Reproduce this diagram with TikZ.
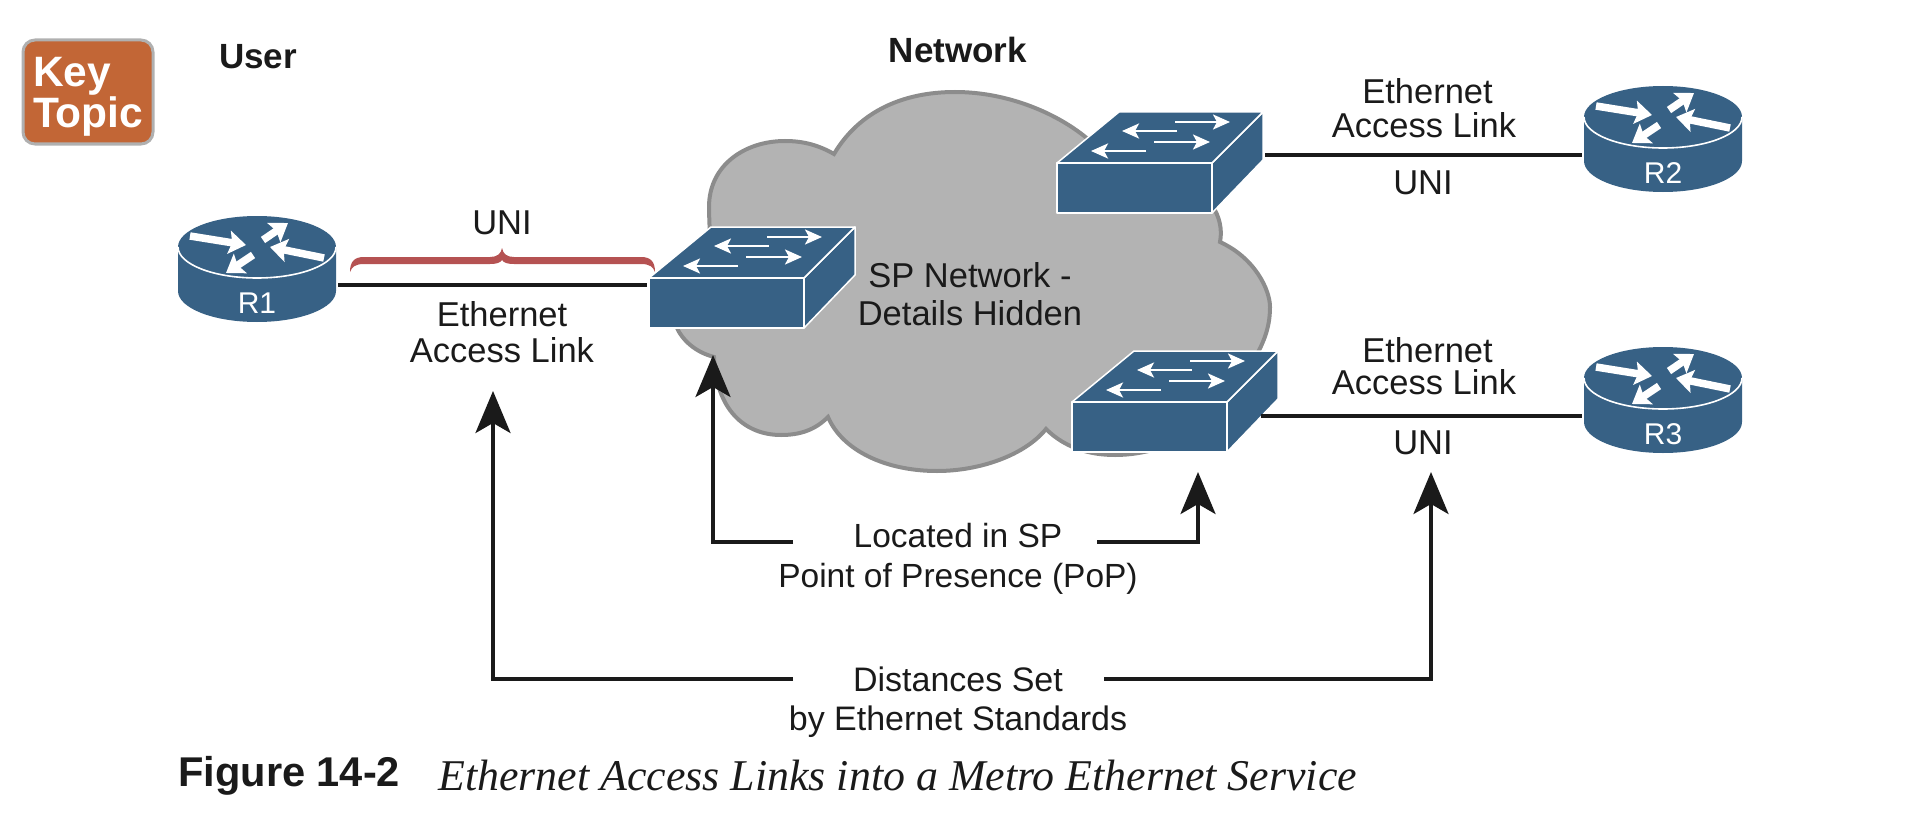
\documentclass[tikz,border=0pt]{standalone}
\usepackage{fontspec}
\setmainfont{Liberation Sans}
\newfontfamily\captionserif{Liberation Serif}
\usetikzlibrary{arrows.meta}
\definecolor{devblue}{HTML}{376185}
\definecolor{cloudgray}{HTML}{B3B3B3}
\definecolor{cloudedge}{HTML}{8C8C8C}
\definecolor{keyorange}{HTML}{C26636}
\definecolor{keyedge}{HTML}{B0B0B0}
\definecolor{bracered}{HTML}{B55252}
\definecolor{inkblack}{HTML}{1A1A1A}
\tikzset{
  lbl/.style={inner sep=0pt,align=center,text=inkblack,font=\fontsize{34.5}{36}\selectfont},
  linkline/.style={draw=inkblack,line width=3.6pt},
  flowline/.style={draw=inkblack,line width=3.6pt,-{Stealth[length=42pt,width=35pt,inset=10pt]}},
  swarrow/.style={draw=white,line width=2.5pt,-{Stealth[length=17pt,width=15pt,inset=4pt]}},
  rtarrow/.style={draw=white,line width=7.5pt,-{Stealth[length=17pt,width=23pt,inset=3pt]}},
  pics/router/.style={code={
    \fill[devblue] (-79,0) -- (-79,44) .. controls (-79,61) and (-44,75) .. (0,75)
      .. controls (44,75) and (79,61) .. (79,44) -- (79,0)
      .. controls (79,-17) and (44,-31) .. (0,-31)
      .. controls (-44,-31) and (-79,-17) .. (-79,0) -- cycle;
    \draw[white,line width=1.6pt] (-79,0) .. controls (-79,17) and (-44,31) .. (0,31)
      .. controls (44,31) and (79,17) .. (79,0);
    \foreach \ax/\ay/\bx/\by in {-67/-11/-11/-2, 6/-7/31/-24, 67/11/13/0, -4/8/-31/26}
    \draw[rtarrow] (\ax,\ay) -- (\bx,\by);
    \node[inner sep=0pt,text=white,font=\fontsize{30}{30}\selectfont] (-label) at (0,56) {#1};
    \coordinate (-west) at (-81,38);
    \coordinate (-east) at (81,38);
  }},
  pics/switchbox/.style={code={
    \draw[white,line width=1.5pt,line join=round,fill=devblue]
      (155,0) -- (206,-51) -- (206,-3) -- (155,50) -- cycle;
    \draw[white,line width=1.5pt,line join=round,fill=devblue]
      (0,0) -- (62,-51) -- (206,-51) -- (155,0) -- cycle;
    \draw[white,line width=1.5pt,line join=round,fill=devblue]
      (0,0) rectangle (155,50);
    \foreach \ax/\ay/\bx/\by in {118/-41/173/-41, 120/-32/65/-32, 97/-21/153/-21, 89/-12/34/-12}
    \draw[swarrow] (\ax,\ay) -- (\bx,\by);
    \coordinate (-west) at (-2,7);
    \coordinate (-east) at (208,-8);
  }}
}
\begin{document}
\begin{tikzpicture}[x=1pt,y=-1pt]
    \useasboundingbox (0,0) rectangle (1908,840);

    \node[draw=keyedge,fill=keyorange,line width=3pt,rounded corners=12pt,minimum width=130pt,
      minimum height=104pt] (keybox) at (88,92) {};
    \node[inner sep=0pt,text width=112pt,align=left,text=white,
      font=\bfseries\fontsize{42.5}{39}\selectfont] (keytopic) at (89,97) {Key\\Topic};

    \node[lbl,font=\bfseries\fontsize{35}{36}\selectfont] (usertitle) at (258,57) {User};
    \node[lbl,font=\bfseries\fontsize{35}{36}\selectfont] (nettitle) at (958,50) {Network};

    \filldraw[fill=cloudgray,draw=cloudedge,line width=4pt,line join=miter]
      (834,154) .. controls (860,110) and (905,92) .. (955,92)
      .. controls (1010,92) and (1060,115) .. (1089,140)
      .. controls (1150,150) and (1230,190) .. (1220,242)
      .. controls (1255,258) and (1270,290) .. (1270,307)
      .. controls (1270,330) and (1262,345) .. (1254,360)
      .. controls (1240,420) and (1170,455) .. (1115,455)
      .. controls (1090,455) and (1065,448) .. (1046,429)
      .. controls (1025,455) and (980,471) .. (937,471)
      .. controls (885,471) and (842,450) .. (828,417)
      .. controls (815,430) and (800,435) .. (781,435)
      .. controls (745,435) and (716,410) .. (714,357)
      .. controls (695,352) and (682,340) .. (676,326)
      .. controls (672,310) and (680,280) .. (705,265)
      .. controls (712,245) and (709,225) .. (709,207)
      .. controls (709,165) and (745,141) .. (785,141)
      .. controls (805,141) and (820,146) .. (834,154) -- cycle;

    \pic (r1) at (257,247) {router=R1};
    \pic (r2) at (1663,117) {router=R2};
    \pic (r3) at (1663,378) {router=R3};
    \pic (sw1) at (649,278) {switchbox};
    \pic (sw2) at (1057,163) {switchbox};
    \pic (sw3) at (1072,402) {switchbox};
    \coordinate (sw3port) at (1261,416);

    \draw[linkline] (r1-east) -- (sw1-west);
    \draw[linkline] (sw2-east) -- (r2-west);
    \draw[linkline] (sw3port) -- (r3-west);

    \fill[bracered] (350,272) .. controls (350,262) and (354,257) .. (364,257) -- (490,257)
      .. controls (497,257) and (501,254) .. (502,248)
      .. controls (503,254) and (507,257) .. (514,257) -- (641,257)
      .. controls (651,257) and (655,262) .. (655,272)
      .. controls (653,267) and (650,264) .. (641,264) -- (514,264)
      .. controls (508,264) and (504,263) .. (502,260)
      .. controls (500,263) and (496,264) .. (490,264) -- (364,264)
      .. controls (355,264) and (352,267) .. (350,272) -- cycle;

    \node[lbl] (uni1) at (502,223) {UNI};
    \node[lbl] (access1) at (502,332) {Ethernet\\Access Link};
    \node[lbl,font=\fontsize{34.5}{38}\selectfont] (hidden) at (970,294) {SP Network -\\Details Hidden};
    \node[lbl,font=\fontsize{34.5}{34}\selectfont] (access2) at (1424,108) {\hspace*{7pt}Ethernet\\Access Link};
    \node[lbl] (uni2) at (1423,183) {UNI};
    \node[lbl,font=\fontsize{34.5}{32}\selectfont] (access3) at (1424,366) {\hspace*{7pt}Ethernet\\Access Link};
    \node[lbl] (uni3) at (1423,443) {UNI};
    \node[lbl,font=\fontsize{33.5}{40}\selectfont] (pop) at (958,559) {Located in SP\\Point of Presence (PoP)};
    \node[lbl,font=\fontsize{34}{39}\selectfont] (dist) at (958,702) {Distances Set\\by Ethernet Standards};

    \coordinate (popleft) at (793,542);
    \coordinate (popright) at (1097,542);
    \coordinate (distleft) at (793,679);
    \coordinate (distright) at (1104,679);
    \coordinate (tipsw1) at (713,355);
    \coordinate (tipsw3) at (1198,472);
    \coordinate (tiplink) at (493,391);
    \coordinate (tipuni) at (1431,472);

    \draw[flowline] (popleft) -| (tipsw1);
    \draw[flowline] (popright) -| (tipsw3);
    \draw[flowline] (distleft) -| (tiplink);
    \draw[flowline] (distright) -| (tipuni);

    \node[inner sep=0pt,anchor=west,text=inkblack,font=\bfseries\fontsize{41.6}{40}\selectfont]
      (figlabel) at (178,776) {Figure 14-2};
    \node[inner sep=0pt,anchor=west,text=inkblack,font=\captionserif\itshape\fontsize{43.9}{40}\selectfont]
      (figtitle) at (438,775) {Ethernet Access Links into a Metro Ethernet Service};
\end{tikzpicture}
\end{document}
